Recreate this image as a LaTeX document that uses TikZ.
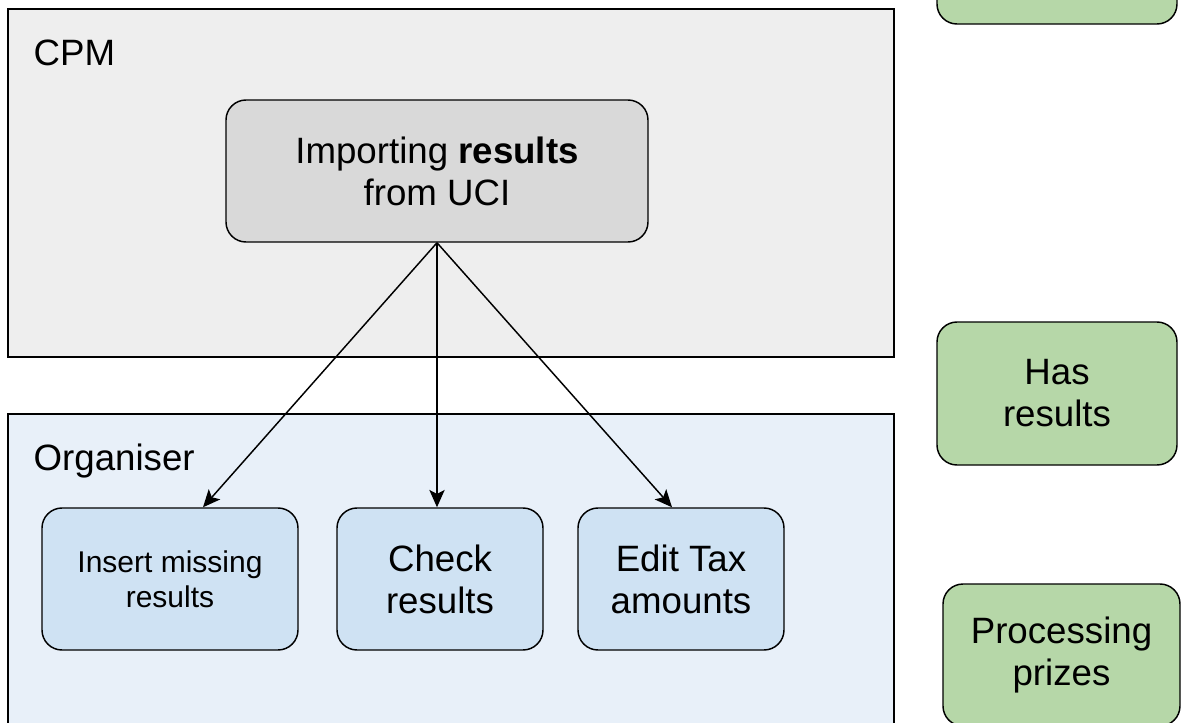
\documentclass[tikz,border=0pt]{standalone}
\usepackage{fontspec}
\setmainfont{Liberation Sans}
\usetikzlibrary{arrows.meta}

\definecolor{cpmgray}{HTML}{EEEEEE}
\definecolor{orgblue}{HTML}{E8F0F9}
\definecolor{impgray}{HTML}{D9D9D9}
\definecolor{taskblue}{HTML}{CFE2F3}
\definecolor{stategreen}{HTML}{B6D7A8}

\begin{document}
\begin{tikzpicture}[x=0.75pt, y=-0.75pt,
  lane/.style={draw, line width=1.1pt, inner sep=0pt},
  lanelabel/.style={anchor=base west, font=\fontsize{27.5}{32}\selectfont},
  task/.style={draw, rounded corners=15pt, line width=1.1pt, align=center,
    inner sep=0pt, font=\fontsize{27.5}{31.5}\selectfont},
  link/.style={-{Stealth[length=13pt,width=11.5pt,inset=3pt]}, line width=1.1pt}]

\useasboundingbox (0,0) rectangle (1182,722);
\clip (0,0) rectangle (1182,722);

% lanes
\node[lane, fill=cpmgray, minimum width=664.5pt, minimum height=261pt] (cpm) at (451,183) {};
\node[lanelabel] (cpmlbl) at (29,65) {CPM};

\node[lane, fill=orgblue, minimum width=664.5pt, minimum height=244.5pt] (org) at (451,577) {};
\node[lanelabel] (orglbl) at (29,470) {Organiser};

% tasks
\node[task, fill=impgray, minimum width=316.5pt, minimum height=106.5pt] (imp) at (437,171)
  {Importing \textbf{results}\\from UCI};

\node[task, fill=taskblue, minimum width=192pt, minimum height=106.5pt,
  font=\fontsize{22.5}{26.5}\selectfont] (ins) at (170,579) {Insert missing\\results};
\node[task, fill=taskblue, minimum width=154.5pt, minimum height=106.5pt] (chk) at (440,579) {Check\\results};
\node[task, fill=taskblue, minimum width=154.5pt, minimum height=106.5pt] (edt) at (681,579) {Edit Tax\\amounts};

% states
\node[task, fill=stategreen, minimum width=180pt, minimum height=106.5pt] (top) at (1057,-47) {};
\node[task, fill=stategreen, minimum width=180pt, minimum height=107.25pt] (has) at (1057,393.5) {Has\\results};
\node[task, fill=stategreen, minimum width=177.75pt, minimum height=106.5pt] (prc) at (1061.5,655) {Processing\\prizes};

\draw[link] (imp.south) -- ([xshift=24.75pt]ins.north);
\draw[link] (imp.south) -- (imp.south |- chk.north);
\draw[link] (imp.south) -- ([xshift=-6.75pt]edt.north);

\end{tikzpicture}
\end{document}
